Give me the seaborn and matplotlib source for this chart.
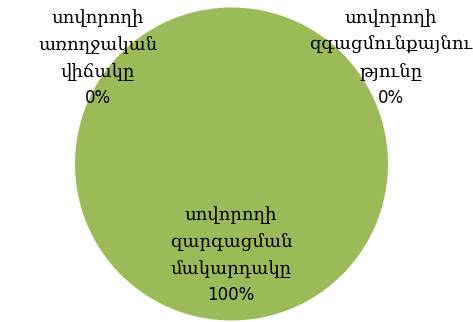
import matplotlib
matplotlib.use("Agg")
import matplotlib.pyplot as plt
import seaborn as sns

sns.set_theme(style="white")
plt.rcParams['font.family'] = ['DejaVu Serif', 'DejaVu Sans']

categories = [["սովորողի", "առողջական", "վիճակը"],
              ["սովորողի", "զգացմունքայնու", "թյունը"],
              ["սովորողի", "զարգացման", "մակարդակը"]]
values = [0, 0, 100]
colors = ["#4F81BD", "#C0504D", "#9BBB59"]

W, H = 473, 322
fig = plt.figure(figsize=(W / 100, H / 100), dpi=100)
cx, cy, r = 231.5, 164, 156.5
ax = fig.add_axes([(cx - r) / W, (H - cy - r) / H, 2 * r / W, 2 * r / H])
ax.pie(values, colors=colors, startangle=90, counterclock=False,
       wedgeprops=dict(linewidth=0))
ax.set_xlim(-1, 1)
ax.set_ylim(-1, 1)
ax.set_aspect("auto")
ax.axis("off")

total = sum(values)
label_x = [98, 391, 231]
label_top = [18, 18, 215]
step = 27
for px, top, lines, v in zip(label_x, label_top, categories, values):
    for i, line in enumerate(lines):
        fig.text(px / W, 1 - (top + i * step) / H, line, ha="center",
                 va="center", fontsize=13, family="DejaVu Serif", color="#000000")
    fig.text(px / W, 1 - (top + 3 * step - 1) / H, f"{v / total * 100:.0f}%",
             ha="center", va="center", fontsize=12, family="DejaVu Sans",
             color="#000000")

fig.savefig("out.png", dpi=100, facecolor="white")
